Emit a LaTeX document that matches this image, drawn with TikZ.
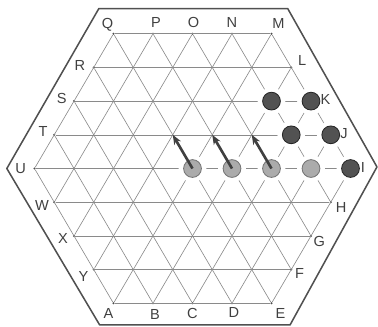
\documentclass[tikz,border=0pt]{standalone}
\usepackage{fontspec}
\setmainfont{Liberation Sans}
\usepackage{xcolor}
\usetikzlibrary{arrows.meta}
\definecolor{boardgray}{HTML}{505050}
\definecolor{linegray}{HTML}{8A8A8A}

\begin{document}
\begin{tikzpicture}[
  pt/.style={circle, fill=black!70, inner sep=0pt, minimum size=1.6pt},
  lbl/.style={font=\fontsize{10.5}{12}\selectfont, text=black!75, inner sep=0pt},
  gridline/.style={draw=linegray, line width=0.45pt},
  board/.style={draw=boardgray, line width=1.1pt, line join=round},
  marble/.style={circle, minimum size=0.45cm, inner sep=0pt, line width=0.6pt, preaction={draw=white, line width=7pt}},
  light/.style={marble, fill=black!33, draw=black!55},
  dark/.style={marble, fill=black!68, draw=black!85},
  move/.style={-{Stealth[length=7pt,width=5.5pt]}, line width=1.9pt, black!75},
]
  \useasboundingbox (-4.873,-3.987) rectangle (4.696,4.266);

  % Board outline
  \draw[board] (-2.37,4.05) -- (2.41,4.05) -- (4.67,0.04) -- (2.47,-3.96) -- (-2.35,-3.96) -- (-4.70,0) -- cycle;

  % Edge points
  \node[pt] (Q) at (-2,3.412) {};
  \node[pt] (P) at (-1,3.412) {};
  \node[pt] (O) at (0,3.412) {};
  \node[pt] (N) at (1,3.412) {};
  \node[pt] (M) at (2,3.412) {};
  \node[pt] (R) at (-2.5,2.559) {};
  \node[pt] (L) at (2.5,2.559) {};
  \node[pt] (S) at (-3,1.706) {};
  \node[pt] (K) at (3,1.706) {};
  \node[pt] (T) at (-3.5,0.853) {};
  \node[pt] (J) at (3.5,0.853) {};
  \node[pt] (U) at (-4,0) {};
  \node[pt] (I) at (4,0) {};
  \node[pt] (W) at (-3.5,-0.853) {};
  \node[pt] (H) at (3.5,-0.853) {};
  \node[pt] (X) at (-3,-1.706) {};
  \node[pt] (G) at (3,-1.706) {};
  \node[pt] (Y) at (-2.5,-2.559) {};
  \node[pt] (F) at (2.5,-2.559) {};
  \node[pt] (A) at (-2,-3.412) {};
  \node[pt] (B) at (-1,-3.412) {};
  \node[pt] (C) at (0,-3.412) {};
  \node[pt] (D) at (1,-3.412) {};
  \node[pt] (E) at (2,-3.412) {};

  % Horizontal lines
  \draw[gridline] (Q) -- (M);
  \draw[gridline] (R) -- (L);
  \draw[gridline] (S) -- (K);
  \draw[gridline] (T) -- (J);
  \draw[gridline] (U) -- (I);
  \draw[gridline] (W) -- (H);
  \draw[gridline] (X) -- (G);
  \draw[gridline] (Y) -- (F);
  \draw[gridline] (A) -- (E);

  % Down-right lines
  \draw[gridline] (U) -- (A);
  \draw[gridline] (T) -- (B);
  \draw[gridline] (S) -- (C);
  \draw[gridline] (R) -- (D);
  \draw[gridline] (Q) -- (E);
  \draw[gridline] (P) -- (F);
  \draw[gridline] (O) -- (G);
  \draw[gridline] (N) -- (H);
  \draw[gridline] (M) -- (I);

  % Down-left lines
  \draw[gridline] (Q) -- (U);
  \draw[gridline] (P) -- (W);
  \draw[gridline] (O) -- (X);
  \draw[gridline] (N) -- (Y);
  \draw[gridline] (M) -- (A);
  \draw[gridline] (L) -- (B);
  \draw[gridline] (K) -- (C);
  \draw[gridline] (J) -- (D);
  \draw[gridline] (I) -- (E);

  % Marbles
  \node[light] (w1) at (0,0) {};
  \node[light] (w2) at (1,0) {};
  \node[light] (w3) at (2,0) {};
  \node[light] (w4) at (3,0) {};
  \node[dark] (b1) at (4,0) {};
  \node[dark] (b2) at (2.5,0.853) {};
  \node[dark] (b3) at (3.5,0.853) {};
  \node[dark] (b4) at (2,1.706) {};
  \node[dark] (b5) at (3,1.706) {};

  % Moves
  \coordinate (t1) at (-0.5,0.853);
  \coordinate (t2) at (0.5,0.853);
  \coordinate (t3) at (1.5,0.853);
  \draw[move] (w1.center) -- (t1);
  \draw[move] (w2.center) -- (t2);
  \draw[move] (w3.center) -- (t3);

  % Labels
  \node[lbl, xshift=-4.3pt, yshift=6.8pt] (lQ) at (Q) {Q};
  \node[lbl, xshift=2.2pt, yshift=8.2pt] (lP) at (P) {P};
  \node[lbl, xshift=0.7pt, yshift=8.2pt] (lO) at (O) {O};
  \node[lbl, yshift=8.2pt] (lN) at (N) {N};
  \node[lbl, xshift=5pt, yshift=7.5pt] (lM) at (M) {M};
  \node[lbl, xshift=7.9pt, yshift=5pt] (lL) at (L) {L};
  \node[lbl, xshift=10.5pt, yshift=1.2pt] (lK) at (K) {K};
  \node[lbl, xshift=9.5pt, yshift=0.7pt] (lJ) at (J) {J};
  \node[lbl, xshift=9pt, yshift=0.5pt] (lI) at (I) {I};
  \node[lbl, xshift=7.4pt, yshift=-3.8pt] (lH) at (H) {H};
  \node[lbl, xshift=6pt, yshift=-3.8pt] (lG) at (G) {G};
  \node[lbl, xshift=6pt, yshift=-3pt] (lF) at (F) {F};
  \node[lbl, xshift=6.5pt, yshift=-7.4pt] (lE) at (E) {E};
  \node[lbl, xshift=-3.6pt, yshift=-7.4pt] (lA) at (A) {A};
  \node[lbl, xshift=1.4pt, yshift=-8pt] (lB) at (B) {B};
  \node[lbl, yshift=-7.4pt] (lC) at (C) {C};
  \node[lbl, xshift=1.4pt, yshift=-6.8pt] (lD) at (D) {D};
  \node[lbl, xshift=-10pt] (lU) at (U) {U};
  \node[lbl, xshift=-8.8pt, yshift=-2.2pt] (lW) at (W) {W};
  \node[lbl, xshift=-8pt, yshift=-2.2pt] (lX) at (X) {X};
  \node[lbl, xshift=-7.4pt, yshift=-5pt] (lY) at (Y) {Y};
  \node[lbl, xshift=-10pt, yshift=1.4pt] (lR) at (R) {R};
  \node[lbl, xshift=-8.8pt, yshift=2.2pt] (lS) at (S) {S};
  \node[lbl, xshift=-8pt, yshift=2.2pt] (lT) at (T) {T};

\end{tikzpicture}
\end{document}
